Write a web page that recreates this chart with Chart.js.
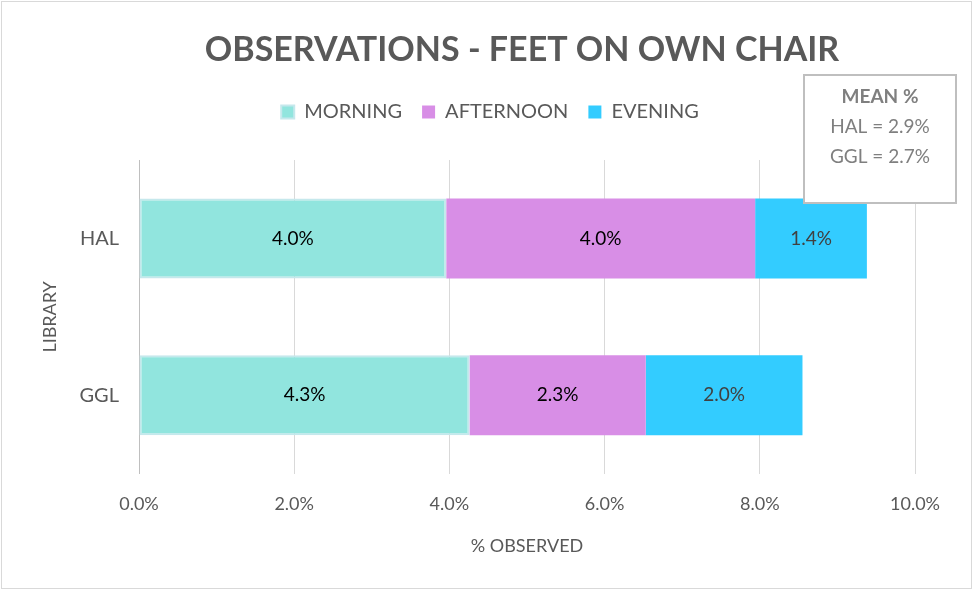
<!DOCTYPE html>
<html>
<head>
<meta charset="utf-8">
<script src="https://cdn.jsdelivr.net/npm/chart.js@4.4.0/dist/chart.umd.min.js"></script>
<style>
  html, body { margin: 0; padding: 0; background: #ffffff; }
  #wrap { width: 973px; height: 590px; position: relative; }
</style>
</head>
<body>
<div id="wrap"><canvas id="chart" width="973" height="590"></canvas></div>
<script>
// Data (% observed)
const categories = ['HAL', 'GGL'];
const seriesNames = ['MORNING', 'AFTERNOON', 'EVENING'];
const morning = [3.96, 4.26];
const afternoon = [3.98, 2.27];
const evening = [1.44, 2.02];
const xTickValues = [0, 2, 4, 6, 8, 10];
const chartTitle = 'OBSERVATIONS - FEET ON OWN CHAIR';
const meanTitle = 'MEAN %';
const meanLines = ['HAL = 2.9%', 'GGL = 2.7%'];

const FONT = 'Lato, "Open Sans", sans-serif';
const GREY = '#595959';

// title, outer border and the mean box
const extras = {
    id: 'extras',
    beforeInit(chart) {
        // leave more room under the legend
        const fit = chart.legend.fit;
        chart.legend.fit = function () {
            fit.call(this);
            this.height += 28;
        };
    },
    afterLayout(chart) {
        // legend sits a bit right of centre in the original
        const lg = chart.legend;
        const shift = 490 - (lg.left + lg.right) / 2;
        lg.left += shift;
        lg.right += shift;
    },
    beforeDraw(chart) {
        const ctx = chart.ctx;
        ctx.save();
        ctx.fillStyle = '#ffffff';
        ctx.fillRect(0, 0, chart.width, chart.height);
        ctx.strokeStyle = '#d9d9d9';
        ctx.lineWidth = 1;
        ctx.strokeRect(1.5, 1.5, chart.width - 3, chart.height - 3);
        ctx.restore();
    },
    afterDraw(chart) {
        const ctx = chart.ctx;
        ctx.save();
        ctx.fillStyle = GREY;
        ctx.font = 'bold 34px ' + FONT;
        ctx.textAlign = 'center';
        ctx.textBaseline = 'middle';
        ctx.fillText(chartTitle, 522, 50);

        // mean box
        ctx.fillStyle = '#ffffff';
        ctx.fillRect(804, 75, 152, 128);
        ctx.strokeStyle = '#bfbfbf';
        ctx.lineWidth = 2;
        ctx.strokeRect(804, 75, 152, 128);
        ctx.fillStyle = '#7f7f7f';
        ctx.font = 'bold 19px ' + FONT;
        ctx.fillText(meanTitle, 880, 97);
        ctx.font = '19px ' + FONT;
        meanLines.forEach((t, i) => ctx.fillText(t, 880, 127 + i * 30));
        ctx.restore();
    }
};

// value labels in the middle of each bar segment
const barLabels = {
    id: 'barLabels',
    afterDatasetsDraw(chart) {
        const ctx = chart.ctx;
        ctx.save();
        ctx.font = '19px ' + FONT;
        ctx.textAlign = 'center';
        ctx.textBaseline = 'middle';
        chart.data.datasets.forEach((ds, i) => {
            chart.getDatasetMeta(i).data.forEach((bar, j) => {
                const p = bar.getProps(['x', 'y', 'base'], true);
                ctx.fillStyle = i === 2 ? '#404040' : '#000000';
                ctx.fillText(ds.data[j].toFixed(1) + '%', (p.x + p.base) / 2, p.y);
            });
        });
        ctx.restore();
    }
};

new Chart(document.getElementById('chart'), {
    type: 'bar',
    data: {
        labels: categories,
        datasets: [
            { label: seriesNames[0], data: morning, backgroundColor: '#91e5de', borderColor: '#c5e8ec', borderWidth: 2, borderSkipped: false },
            { label: seriesNames[1], data: afternoon, backgroundColor: '#d88ee6' },
            { label: seriesNames[2], data: evening, backgroundColor: '#33ccff' }
        ]
    },
    options: {
        indexAxis: 'y',
        responsive: false,
        animation: false,
        layout: { padding: { top: 82, right: 58, bottom: 29, left: 35 } },
        datasets: { bar: { categoryPercentage: 0.51, barPercentage: 1.0 } },
        plugins: {
            legend: {
                position: 'top',
                labels: {
                    boxWidth: 13, boxHeight: 13, padding: 20,
                    color: GREY, font: { family: FONT, size: 20 }
                }
            },
            tooltip: { enabled: false },
            title: { display: false }
        },
        scales: {
            x: {
                stacked: true,
                min: 0, max: 10,
                afterBuildTicks(scale) { scale.ticks = xTickValues.map(v => ({ value: v })); },
                ticks: {
                    color: GREY, padding: 20,
                    font: { family: FONT, size: 18 },
                    callback: v => v.toFixed(1) + '%'
                },
                grid: { color: '#d9d9d9', drawTicks: false },
                border: { display: false },
                title: {
                    display: true, text: '% OBSERVED', color: GREY,
                    font: { family: FONT, size: 18 }, padding: { top: 0 }
                }
            },
            y: {
                stacked: true,
                afterFit(scale) { scale.width = 104; },
                ticks: { color: GREY, padding: 12, font: { family: FONT, size: 20 } },
                grid: { display: false },
                border: { display: true, color: '#bfbfbf' },
                title: {
                    display: true, text: 'LIBRARY', color: GREY,
                    font: { family: FONT, size: 18 }, padding: { bottom: 10 }
                }
            }
        }
    },
    plugins: [extras, barLabels]
});
</script>
</body>
</html>
